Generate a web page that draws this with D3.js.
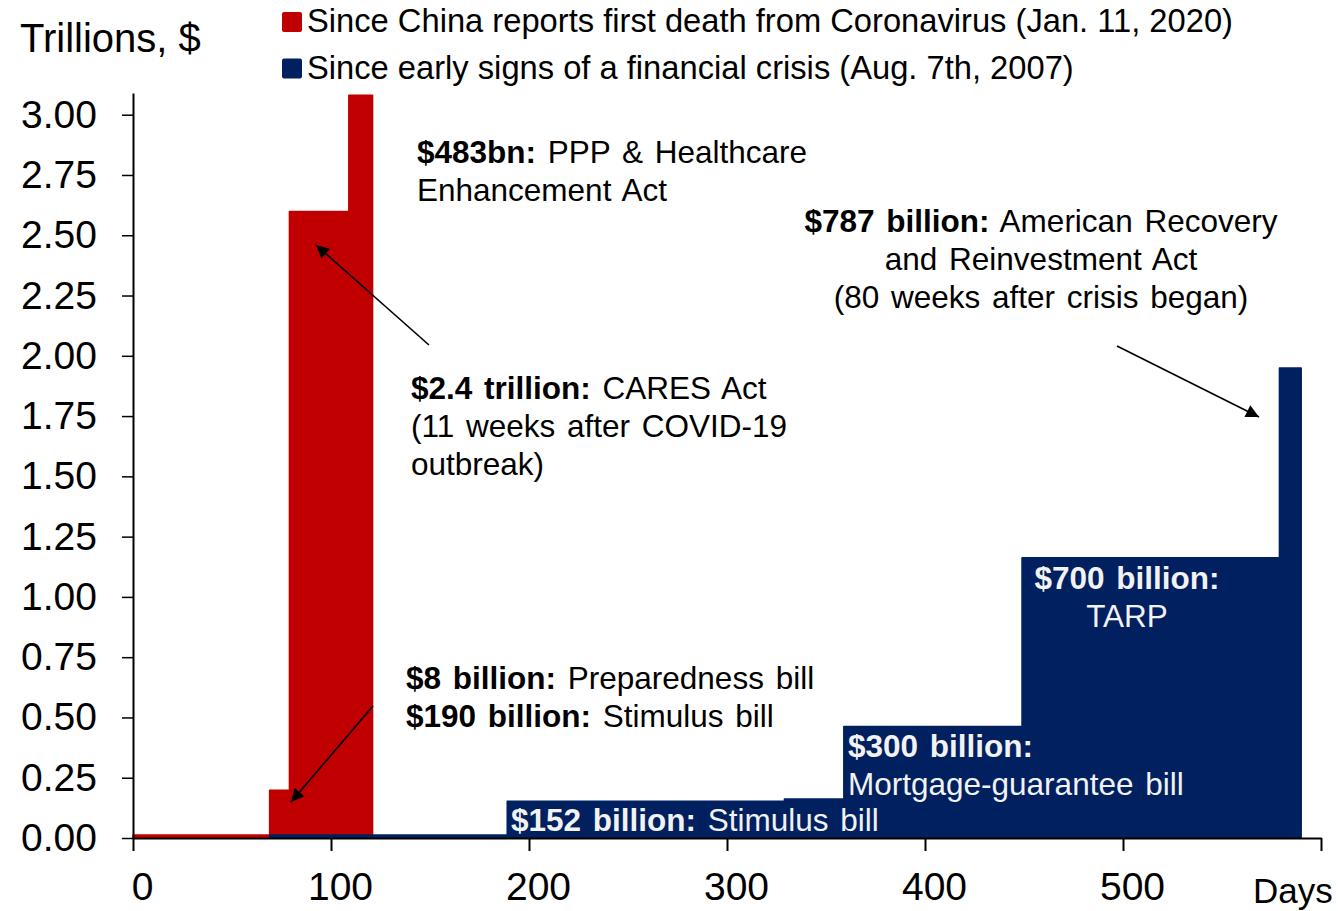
<!DOCTYPE html>
<html>
<head>
<meta charset="utf-8">
<script src="https://cdn.jsdelivr.net/npm/d3@7"></script>
<style>
  html, body { margin: 0; padding: 0; background: #fff; }
  svg { display: block; font-family: "Liberation Sans", Arial, sans-serif; }
</style>
</head>
<body>
<svg id="chart" width="1338" height="911"></svg>
<script>
// Cumulative fiscal response (trillions of $) by days since the start of each crisis
const covidDays   = [0, 69, 79, 109, 121];
const covidValues = [0.012, 0.198, 2.598, 3.081, 0];

const gfcDays   = [69, 189, 329, 359, 449, 579, 590];
const gfcValues = [0.012, 0.152, 0.162, 0.462, 1.162, 1.949, 0];

const xTicks = [0, 100, 200, 300, 400, 500, 600];
const yTicks = [0, 0.25, 0.5, 0.75, 1, 1.25, 1.5, 1.75, 2, 2.25, 2.5, 2.75, 3];

const seriesNames = [
  "Since China reports first death from Coronavirus (Jan. 11, 2020)",
  "Since early signs of a financial crisis (Aug. 7th, 2007)"
];
const RED = "#C00000", BLUE = "#002060";

const svg = d3.select("#chart");

const x = d3.scaleLinear().domain([0, 600]).range([133, 1321]);
const y = d3.scaleLinear().domain([0, 3.09]).range([838, 93]);

const area = d3.area()
  .curve(d3.curveStepAfter)
  .x(d => x(d.day))
  .y0(y(0))
  .y1(d => y(d.value));

const covid = covidDays.map((d, i) => ({ day: d, value: covidValues[i] }));
const gfc = gfcDays.map((d, i) => ({ day: d, value: gfcValues[i] }));

svg.append("path").datum(covid).attr("d", area)
  .attr("fill", RED).attr("stroke", RED).attr("stroke-width", 1.5).attr("stroke-linejoin", "round");
svg.append("path").datum(gfc).attr("d", area)
  .attr("fill", BLUE).attr("stroke", BLUE).attr("stroke-width", 1.5).attr("stroke-linejoin", "round");

// Axes
const yAxis = svg.append("g").attr("transform", "translate(133,0)")
  .call(d3.axisLeft(y).tickValues(yTicks).tickFormat(d3.format(".2f"))
    .tickSize(11).tickPadding(25).tickSizeOuter(0));
yAxis.selectAll("text").attr("font-size", 39).attr("fill", "#000").attr("font-family", "Liberation Sans, Arial, sans-serif");
yAxis.selectAll("line").attr("stroke", "#000").attr("stroke-width", 1.5);
yAxis.select(".domain").attr("stroke", "#000").attr("stroke-width", 2);

const xAxis = svg.append("g").attr("transform", "translate(0,838)")
  .call(d3.axisBottom(x).tickValues(xTicks).tickFormat(d => d === 600 ? "" : d)
    .tickSize(13).tickPadding(21).tickSizeOuter(0));
xAxis.selectAll("text").attr("font-size", 39).attr("fill", "#000").attr("dx", 9)
  .attr("font-family", "Liberation Sans, Arial, sans-serif");
xAxis.selectAll("line").attr("stroke", "#000").attr("stroke-width", 2);
xAxis.select(".domain").attr("stroke", "#000").attr("stroke-width", 2);

svg.append("text").attr("x", 1253).attr("y", 903).attr("font-size", 35).text("Days");
svg.append("text").attr("x", 20).attr("y", 52).attr("font-size", 40).text("Trillions, $");

// Legend
const legend = svg.append("g");
[RED, BLUE].forEach((c, i) => {
  legend.append("rect").attr("x", 282).attr("y", 12 + i * 46.5).attr("width", 20).attr("height", 20)
    .attr("rx", 2).attr("fill", c);
  legend.append("text").attr("x", 307).attr("y", 32 + i * 46.5).attr("font-size", 32.7)
    .text(seriesNames[i]);
});

// Annotations: each line is [bold part, regular part]
function note(lines, xPos, y0, anchor, color) {
  const t = svg.append("text").attr("font-size", 31.5).attr("fill", color)
    .attr("text-anchor", anchor).attr("word-spacing", 3);
  lines.forEach((ln, i) => {
    const ts = t.append("tspan").attr("x", xPos).attr("y", y0 + i * 38);
    if (ln[0]) ts.append("tspan").attr("font-weight", "bold").text(ln[0]);
    if (ln[1]) {
      if (ln[0]) t.append("tspan").text(" " + ln[1]);
      else ts.text(ln[1]);
    }
  });
}
note([["$483bn:", "PPP & Healthcare"], [null, "Enhancement Act"]], 417, 163, "start", "#000");
note([["$787 billion:", "American Recovery"], [null, "and Reinvestment Act"], [null, "(80 weeks after crisis began)"]], 1041, 232, "middle", "#000");
note([["$2.4 trillion:", "CARES Act"], [null, "(11 weeks after COVID-19"], [null, "outbreak)"]], 411, 399, "start", "#000");
note([["$8 billion:", "Preparedness bill"], ["$190 billion:", "Stimulus bill"]], 406, 689, "start", "#000");
note([["$152 billion:", "Stimulus bill"]], 511, 831, "start", "#F2F2F2");
note([["$300 billion:", null], [null, "Mortgage-guarantee bill"]], 848, 757, "start", "#F2F2F2");
note([["$700 billion:", null], [null, "TARP"]], 1127, 589, "middle", "#F2F2F2");

// Arrows
const defs = svg.append("defs");
defs.append("marker").attr("id", "head").attr("viewBox", "0 0 10 10")
  .attr("refX", 10).attr("refY", 5).attr("markerWidth", 18).attr("markerHeight", 13)
  .attr("markerUnits", "userSpaceOnUse").attr("orient", "auto")
  .append("path").attr("d", "M0,0 L10,5 L0,10 Z").attr("fill", "#000");

const arrows = [
  [429, 345, 316, 245],
  [373, 706, 291, 802],
  [1117, 346, 1259, 417]
];
arrows.forEach(a => {
  svg.append("line").attr("x1", a[0]).attr("y1", a[1]).attr("x2", a[2]).attr("y2", a[3])
    .attr("stroke", "#000").attr("stroke-width", 1.6).attr("marker-end", "url(#head)");
});
</script>
</body>
</html>
